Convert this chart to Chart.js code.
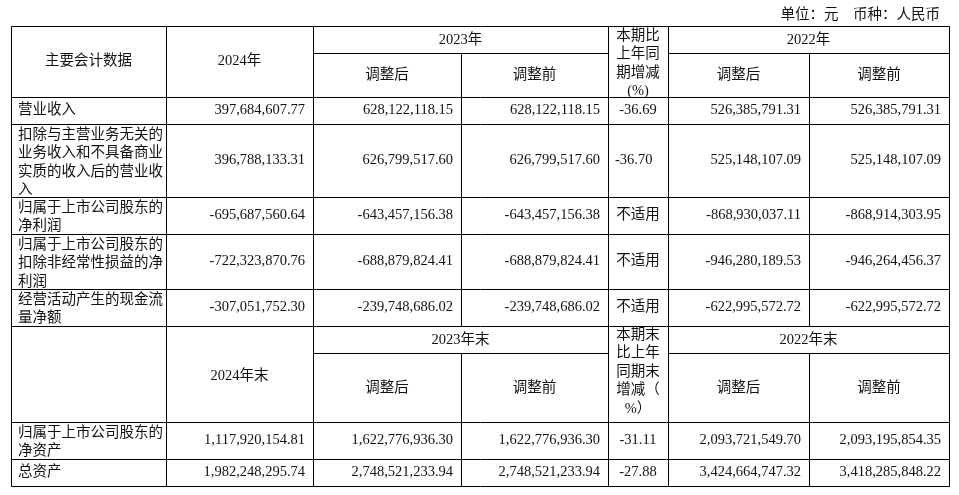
<!DOCTYPE html>
<html>
<head>
<meta charset="utf-8">
<script src="https://cdn.jsdelivr.net/npm/chart.js@4/dist/chart.umd.min.js"></script>
<style>
  html, body { margin: 0; padding: 0; background: #fff; }
  #wrap { width: 959px; height: 495px; }
</style>
</head>
<body>
<div id="wrap"><canvas id="myChart"></canvas></div>
<script>
// table content
const rowLabels = [
  '营业收入',
  '扣除与主营业务无关的\n业务收入和不具备商业\n实质的收入后的营业收\n入',
  '归属于上市公司股东的\n净利润',
  '归属于上市公司股东的\n扣除非经常性损益的净\n利润',
  '经营活动产生的现金流\n量净额',
  '归属于上市公司股东的\n净资产',
  '总资产'
];
const val2024 = ['397,684,607.77', '396,788,133.31', '-695,687,560.64', '-722,323,870.76', '-307,051,752.30', '1,117,920,154.81', '1,982,248,295.74'];
const val2023Adj = ['628,122,118.15', '626,799,517.60', '-643,457,156.38', '-688,879,824.41', '-239,748,686.02', '1,622,776,936.30', '2,748,521,233.94'];
const val2023Orig = ['628,122,118.15', '626,799,517.60', '-643,457,156.38', '-688,879,824.41', '-239,748,686.02', '1,622,776,936.30', '2,748,521,233.94'];
const changePct = ['-36.69', '-36.70', '不适用', '不适用', '不适用', '-31.11', '-27.88'];
const val2022Adj = ['526,385,791.31', '525,148,107.09', '-868,930,037.11', '-946,280,189.53', '-622,995,572.72', '2,093,721,549.70', '3,424,664,747.32'];
const val2022Orig = ['526,385,791.31', '525,148,107.09', '-868,914,303.95', '-946,264,456.37', '-622,995,572.72', '2,093,195,854.35', '3,418,285,848.22'];
const unitNote = '单位：元　币种：人民币';

// layout
const colX = [11, 166, 313, 461, 608, 668, 809, 949];
const top1 = 26, sub1 = 53, head1Bottom = 97;
const rowsY1 = [97, 124, 197, 234, 289, 326];
const top2 = 326, sub2 = 353, head2Bottom = 422;
const rowsY2 = [422, 459, 486];
const FONT = '14.5px "Liberation Serif", "Noto Sans CJK SC", serif';
const LH = 18.5;

const tablePlugin = {
  id: 'tablePlugin',
  afterDraw(chart) {
    const ctx = chart.ctx;
    const sx = v => chart.scales.x.getPixelForValue(v);
    const sy = v => chart.scales.y.getPixelForValue(v);
    ctx.save();
    ctx.strokeStyle = '#000';
    ctx.lineWidth = 1;
    const line = (x1, y1, x2, y2) => {
      ctx.beginPath();
      ctx.moveTo(Math.round(sx(x1)) + 0.5, Math.round(sy(y1)) + 0.5);
      ctx.lineTo(Math.round(sx(x2)) + 0.5, Math.round(sy(y2)) + 0.5);
      ctx.stroke();
    };
    ctx.font = FONT;
    ctx.fillStyle = '#111';
    ctx.textBaseline = 'middle';
    const text = (s, x, y, align) => {
      ctx.textAlign = align;
      const lines = s.split('\n');
      const y0 = y - (lines.length - 1) * LH / 2;
      lines.forEach((l, i) => ctx.fillText(l, sx(x), sy(y0 + i * LH)));
    };
    const textTop = (s, x, y, align) => {
      ctx.textAlign = align;
      s.split('\n').forEach((l, i) => ctx.fillText(l, sx(x), sy(y + i * LH)));
    };
    const mid = (a, b) => (a + b) / 2;

    text(unitNote, 940, 15, 'right');

    // outer frame and horizontals
    line(colX[0], top1, colX[7], top1);
    line(colX[0], rowsY2[2], colX[7], rowsY2[2]);
    line(colX[0], top1, colX[0], rowsY2[2]);
    line(colX[7], top1, colX[7], rowsY2[2]);
    [head1Bottom, ...rowsY1.slice(1), head2Bottom, ...rowsY2.slice(1, 2)].forEach(y => line(colX[0], y, colX[7], y));
    [sub1, sub2].forEach(s => {
      line(colX[2], s, colX[4], s);
      line(colX[5], s, colX[7], s);
    });
    // verticals
    [colX[1], colX[2], colX[4], colX[5]].forEach(x => line(x, top1, x, rowsY2[2]));
    [colX[3], colX[6]].forEach(x => {
      line(x, sub1, x, rowsY1[5]);
      line(x, sub2, x, rowsY2[2]);
    });

    // header 1
    text('主要会计数据', mid(colX[0], colX[1]), 61, 'center');
    text('2024年', mid(colX[1], colX[2]), 61, 'center');
    text('2023年', mid(colX[2], colX[4]), 40, 'center');
    text('2022年', mid(colX[5], colX[7]), 40, 'center');
    text('调整后', mid(colX[2], colX[3]), 75, 'center');
    text('调整前', mid(colX[3], colX[4]), 75, 'center');
    text('调整后', mid(colX[5], colX[6]), 75, 'center');
    text('调整前', mid(colX[6], colX[7]), 75, 'center');
    textTop('本期比\n上年同\n期增减\n(%)', mid(colX[4], colX[5]), 36, 'center');

    // header 2
    text('2024年末', mid(colX[1], colX[2]), 376, 'center');
    text('2023年末', mid(colX[2], colX[4]), 340, 'center');
    text('2022年末', mid(colX[5], colX[7]), 340, 'center');
    text('调整后', mid(colX[2], colX[3]), 388, 'center');
    text('调整前', mid(colX[3], colX[4]), 388, 'center');
    text('调整后', mid(colX[5], colX[6]), 388, 'center');
    text('调整前', mid(colX[6], colX[7]), 388, 'center');
    textTop('本期末\n比上年\n同期末\n增减（\n%）', mid(colX[4], colX[5]), 335, 'center');

    // body rows
    const bodyRows = [];
    for (let i = 0; i < 5; i++) bodyRows.push([rowsY1[i], rowsY1[i + 1]]);
    for (let i = 0; i < 2; i++) bodyRows.push([rowsY2[i], rowsY2[i + 1]]);
    bodyRows.forEach(([a, b], i) => {
      const nLines = rowLabels[i].split('\n').length;
      const yTop = (a + b) / 2 - (nLines - 1) * LH / 2;
      textTop(rowLabels[i], colX[0] + 7, Math.max(yTop, a + 11), 'left');
      const y = (a + b) / 2;
      text(val2024[i], colX[2] - 8, y, 'right');
      text(val2023Adj[i], colX[3] - 8, y, 'right');
      text(val2023Orig[i], colX[4] - 8, y, 'right');
      if (i === 1) text(changePct[i], colX[4] + 7, y, 'left');
      else text(changePct[i], mid(colX[4], colX[5]), y, 'center');
      text(val2022Adj[i], colX[6] - 8, y, 'right');
      text(val2022Orig[i], colX[7] - 8, y, 'right');
    });
    ctx.restore();
  }
};

new Chart(document.getElementById('myChart'), {
  type: 'scatter',
  data: { datasets: [{ data: [] }] },
  options: {
    responsive: true,
    maintainAspectRatio: false,
    animation: false,
    layout: { padding: 0 },
    plugins: { legend: { display: false }, tooltip: { enabled: false } },
    scales: {
      x: { type: 'linear', min: 0, max: 959, display: false },
      y: { type: 'linear', min: 0, max: 495, reverse: true, display: false }
    }
  },
  plugins: [tablePlugin]
});
</script>
</body>
</html>
